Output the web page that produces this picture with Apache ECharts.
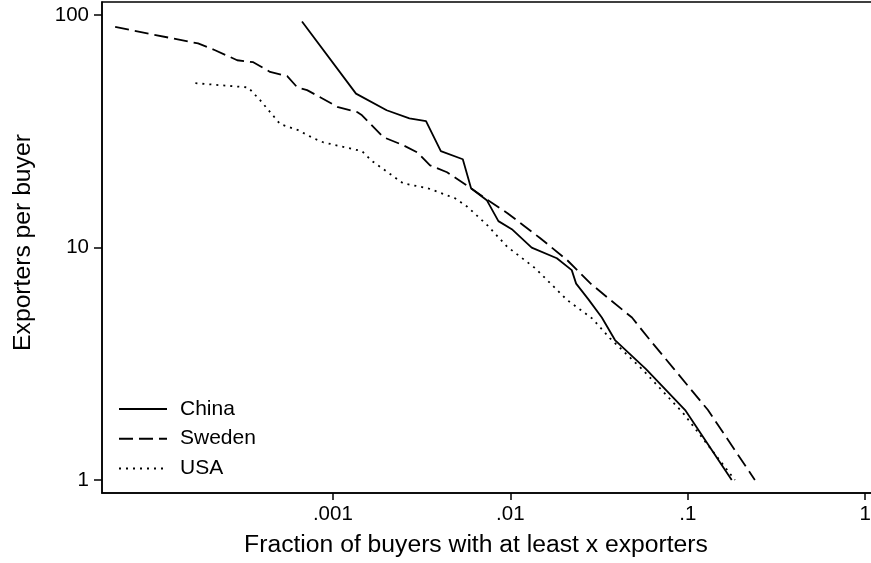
<!DOCTYPE html>
<html>
<head>
<meta charset="utf-8">
<script src="https://cdn.jsdelivr.net/npm/echarts@6/dist/echarts.min.js"></script>
<style>
html,body{margin:0;padding:0;background:#fff;}
#chart{width:871px;height:563px;}
</style>
</head>
<body>
<div id="chart"></div>
<script>
// ---- data ----
const seriesNames = ['China', 'Sweden', 'USA'];
const chinaX = [0.00067, 0.00135, 0.00201, 0.0027, 0.00335, 0.00406, 0.0054, 0.00601, 0.00737, 0.00857, 0.0102, 0.0132, 0.0183, 0.0222, 0.0235, 0.0275, 0.0328, 0.0389, 0.0582, 0.0967, 0.177];
const chinaY = [94, 46, 39, 36, 35, 26, 24, 18, 16, 13, 12, 10, 9, 8, 7, 6, 5, 4, 3, 2, 1];
const swedenX = [0.0000593, 0.000174, 0.000217, 0.000289, 0.000356, 0.000443, 0.000553, 0.000629, 0.000716, 0.000848, 0.00107, 0.00137, 0.00146, 0.00192, 0.00249, 0.00299, 0.00353, 0.0044, 0.00564, 0.0074, 0.0096, 0.0147, 0.0209, 0.0282, 0.0362, 0.0485, 0.0613, 0.0838, 0.130, 0.239];
const swedenY = [89, 75.6, 70.7, 64, 62.8, 57, 54.7, 49, 47.6, 44.4, 40.2, 38.3, 37.1, 29.9, 27.6, 25.7, 22.6, 21.1, 18.6, 16.1, 14.1, 11, 8.84, 7.03, 6, 5, 4, 3, 2, 1];
const usaX = [0.000168, 0.000333, 0.000389, 0.000505, 0.000638, 0.000774, 0.000882, 0.00146, 0.00166, 0.00249, 0.00344, 0.00489, 0.00572, 0.00741, 0.00959, 0.0138, 0.0209, 0.0289, 0.0365, 0.056, 0.0942, 0.1845];
const usaY = [51, 48.9, 43.1, 34, 32, 29.6, 28.4, 26, 23.6, 18.9, 18, 16.3, 15, 12.5, 10.1, 8.16, 5.95, 4.96, 4.07, 2.97, 1.94, 1];
const xTicks = [0.001, 0.01, 0.1, 1];
const xTickLabels = ['.001', '.01', '.1', '1'];
const yTicks = [1, 10, 100];
const yTickLabels = ['1', '10', '100'];
const xTitle = 'Fraction of buyers with at least x exporters';
const yTitle = 'Exporters per buyer';

function pairs(xs, ys) { return xs.map((x, i) => [x, ys[i]]); }

const FONT = '"Liberation Sans", Arial, Helvetica, sans-serif';
const chart = echarts.init(document.getElementById('chart'), null, {renderer: 'canvas'});

function fmt(ticks, labels) {
  return function (v) {
    for (let i = 0; i < ticks.length; i++) {
      if (Math.abs(Math.log10(v) - Math.log10(ticks[i])) < 1e-6) return labels[i];
    }
    return '';
  };
}

const lineCommon = {type: 'line', symbol: 'none', showSymbol: false, smooth: false, animation: false, z: 3};

chart.setOption({
  animation: false,
  backgroundColor: '#fff',
  grid: {
    left: 102, top: 2, width: 771, height: 491,
    outerBoundsMode: 'none', containLabel: false,
    show: true, borderColor: '#000', borderWidth: 1.5, backgroundColor: 'transparent'
  },
  legend: {
    show: true,
    orient: 'vertical', left: 113, top: 393.5,
    itemWidth: 48, itemHeight: 14, itemGap: 8.7,
    data: seriesNames,
    itemStyle: {opacity: 0},
    textStyle: {fontFamily: FONT, fontSize: 21, color: '#000', padding: [0, 0, 0, 8], lineHeight: 21}
  },
  xAxis: {
    type: 'log', logBase: 10,
    min: 0.00005, max: 1.107,
    axisLine: {show: true, onZero: false, lineStyle: {color: '#000', width: 1.5}},
    axisTick: {show: true, length: 7, lineStyle: {color: '#000', width: 1.5}, customValues: xTicks},
    axisLabel: {customValues: xTicks, formatter: fmt(xTicks, xTickLabels), fontFamily: FONT, fontSize: 20.5, color: '#000', margin: 11},
    splitLine: {show: false},
    minorTick: {show: false},
    name: xTitle, nameLocation: 'middle', nameGap: 40,
    nameTextStyle: {fontFamily: FONT, fontSize: 24.7, color: '#000', padding: [0, 23, 0, 0]}
  },
  yAxis: {
    type: 'log', logBase: 10,
    min: 0.879, max: 114,
    axisLine: {show: true, onZero: false, lineStyle: {color: '#000', width: 1.5}},
    axisTick: {show: true, length: 8, lineStyle: {color: '#000', width: 1.5}, customValues: yTicks},
    axisLabel: {customValues: yTicks, formatter: fmt(yTicks, yTickLabels), fontFamily: FONT, fontSize: 20.5, color: '#000', margin: 13},
    splitLine: {show: false},
    name: yTitle, nameLocation: 'middle', nameGap: 66, nameRotate: 90,
    nameTextStyle: {fontFamily: FONT, fontSize: 24.7, color: '#000', padding: [0, 0, 0, 10]}
  },
  series: [
    Object.assign({}, lineCommon, {name: seriesNames[0], data: pairs(chinaX, chinaY),
      lineStyle: {color: '#000', width: 1.8, type: 'solid'}, itemStyle: {color: '#000'}}),
    Object.assign({}, lineCommon, {name: seriesNames[1], data: pairs(swedenX, swedenY),
      lineStyle: {color: '#000', width: 1.8, type: [14, 6]}, itemStyle: {color: '#000'}}),
    Object.assign({}, lineCommon, {name: seriesNames[2], data: pairs(usaX, usaY),
      lineStyle: {color: '#000', width: 1.8, type: [2, 5]}, itemStyle: {color: '#000'}})
  ]
});
</script>
</body>
</html>
